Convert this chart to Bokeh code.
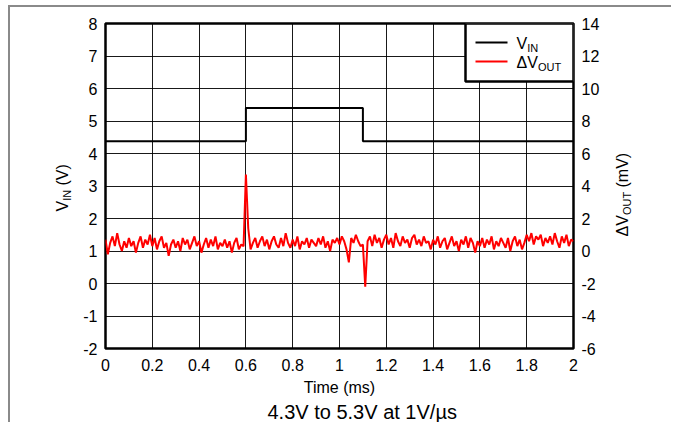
import numpy as np
from bokeh.plotting import figure
from bokeh.models import (Range1d, LinearAxis, FixedTicker, Label, BoxAnnotation, Title)
from bokeh.embed import file_html
from bokeh.resources import INLINE

# ---------------- data ----------------
x_ticks = [0, 0.2, 0.4, 0.6, 0.8, 1.0, 1.2, 1.4, 1.6, 1.8, 2.0]
x_tick_labels = ["0", "0.2", "0.4", "0.6", "0.8", "1", "1.2", "1.4", "1.6", "1.8", "2"]
vin_ticks = [-2, -1, 0, 1, 2, 3, 4, 5, 6, 7, 8]
vin_tick_labels = ["-2", "-1", "0", "1", "2", "3", "4", "5", "6", "7", "8"]
dv_ticks = [-6, -4, -2, 0, 2, 4, 6, 8, 10, 12, 14]
dv_tick_labels = ["-6", "-4", "-2", "0", "2", "4", "6", "8", "10", "12", "14"]

# V_IN step (time in ms, volts)
vin_t = [0.0, 0.6, 0.6, 1.1, 1.1, 2.0]
vin_v = [4.38, 4.38, 5.40, 5.40, 4.38, 4.38]

# Delta V_OUT (mV), sampled every 0.01 ms from 0 to 2 ms
dvout_mv = [
    0.7, -0.2, 0.5, 0.9, 0.3, 1.1, 0.4, 0.0, 0.6, 0.2,
    0.8, 0.3, 0.6, -0.1, 0.5, 0.9, 0.2, 0.7, 0.4, 1.0,
    0.3, 0.8, 0.1, 0.6, 0.9, 0.2, 0.5, -0.3, 0.4, 0.7,
    0.2, 0.6, 0.0, 0.8, 0.4, 0.7, 0.1, 0.5, 0.9, 0.3,
    0.6, -0.1, 0.4, 0.8, 0.2, 0.7, 0.3, 0.9, 0.1, 0.5,
    0.3, 0.7, 0.2, 0.6, -0.1, 0.5, 0.8, 0.1, 0.4, 0.3,
    4.7, 1.4, 0.1, 0.5, 0.8, 0.2, 0.6, 0.9, 0.3, 0.7,
    0.1, 0.6, 0.9, 0.4, 0.2, 0.8, 0.3, 1.1, 0.5, 0.2,
    0.7, 0.3, 0.9, 0.1, 0.6, 0.4, 0.8, 0.2, 0.7, 0.5,
    0.3, 0.8, 0.4, 0.9, 0.2, 0.6, 0.0, 0.7, 0.5, 0.8,
    0.4, 0.9, 0.6, 0.1, -0.7, 0.8, 0.5, 1.0, 0.6, 0.3,
    0.4, -2.2, 0.6, 0.9, 0.3, 1.0, 0.5, 0.8, 0.2, 0.7,
    1.0, 0.4, 0.8, 0.2, 1.1, 0.6, 0.3, 0.9, 0.5, 0.7,
    0.2, 0.8, 1.0, 0.4, 0.7, 0.3, 0.9, 0.5, 0.6, 0.1,
    0.7, 0.4, 0.9, 0.2, 0.6, 0.8, 0.1, 0.5, 0.9, 0.3,
    0.6, 0.0, 0.7, 0.4, 0.9, 0.2, 0.8, 0.5, -0.1, 0.6,
    0.3, 0.8, 0.2, 0.7, 0.4, 0.9, 0.1, 0.6, 0.3, 0.8,
    0.5, 0.2, 0.8, 0.0, 0.6, 0.9, 0.3, 0.7, 0.1, 0.5,
    1.0, 0.6, 1.1, 0.4, 0.9, 0.7, 1.0, 0.3, 0.8, 0.5,
    0.9, 0.4, 1.1, 0.6, 0.2, 0.9, 0.5, 1.0, 0.3, 0.7,
    0.6,
]
dvout_t = list(np.round(np.linspace(0.0, 2.0, len(dvout_mv)), 4))

caption = "4.3V to 5.3V at 1V/µs"

# ---------------- layout ----------------
FONT = "Liberation Sans"
F_LEFT, F_TOP, F_W, F_H = 105, 23, 468, 325   # frame position on the page (px)


def dx(px):
    return (px - F_LEFT) / F_W * 2.0


def dy(py):
    return 8.0 - (py - F_TOP) / F_H * 10.0


p = figure(frame_width=F_W, frame_height=F_H,
           min_border_left=95, min_border_right=98,
           min_border_top=16, min_border_bottom=73,
           x_range=Range1d(0, 2), y_range=Range1d(-2, 8),
           output_backend="svg", toolbar_location=None,
           background_fill_color="white", border_fill_color="white",
           styles={"margin-left": "8px", "margin-top": "5px",
                   "border-left": "2px solid #8a8a8a",
                   "border-top": "2px solid #8a8a8a"})
p.extra_y_ranges = {"r": Range1d(-6, 14)}
raxis = LinearAxis(y_range_name="r")
p.add_layout(raxis, "right")

p.outline_line_color = "black"
p.outline_line_width = 2.5

p.xaxis.ticker = FixedTicker(ticks=x_ticks)
p.xaxis.major_label_overrides = {t: l for t, l in zip(x_ticks, x_tick_labels)}
p.yaxis[0].ticker = FixedTicker(ticks=vin_ticks)
p.yaxis[0].major_label_overrides = {t: l for t, l in zip(vin_ticks, vin_tick_labels)}
raxis.ticker = FixedTicker(ticks=dv_ticks)
raxis.major_label_overrides = {t: l for t, l in zip(dv_ticks, dv_tick_labels)}

for ax in p.axis:
    ax.axis_line_color = None
    ax.major_tick_line_color = None
    ax.minor_tick_line_color = None
    ax.major_tick_out = 0
    ax.major_tick_in = 0
    ax.major_label_text_font = FONT
    ax.major_label_text_font_size = "16px"
    ax.major_label_text_color = "black"
    ax.axis_label_text_font = FONT
    ax.axis_label_text_font_size = "16px"
    ax.axis_label_text_font_style = "normal"
    ax.axis_label_text_color = "black"
    ax.major_label_standoff = 8

p.xaxis.major_label_standoff = 10
p.xaxis.axis_label = "Time (ms)"
p.xaxis.axis_label_standoff = 5

p.xgrid.ticker = FixedTicker(ticks=x_ticks)
p.ygrid.ticker = FixedTicker(ticks=vin_ticks)
p.grid.grid_line_color = "black"
p.grid.grid_line_width = 1
p.grid.grid_line_alpha = 0.9

# caption below the x axis
p.add_layout(Title(text=caption, align="left", offset=162, standoff=0,
                   text_font=FONT, text_font_size="20px", text_font_style="normal",
                   text_color="black"), "below")

# data lines
p.line(vin_t, vin_v, line_color="black", line_width=2)
p.line(dvout_t, dvout_mv, line_color="red", line_width=2, y_range_name="r")

# legend (manual, for subscripts)
p.add_layout(BoxAnnotation(left=dx(465), right=dx(573), top=dy(23), bottom=dy(81),
                           fill_color="white", fill_alpha=1.0,
                           line_color="black", line_width=2.5, line_alpha=1.0))
p.line([dx(475), dx(507)], [dy(42), dy(42)], line_color="black", line_width=2, level="overlay")
p.line([dx(475), dx(507)], [dy(61), dy(61)], line_color="red", line_width=2, level="overlay")


def lab(text, px, py, size, angle=0.0, align="left", baseline="middle", side=None):
    label = Label(x=dx(px), y=dy(py), text=text, text_font=FONT,
                  text_font_size=f"{size}px", text_color="black",
                  text_align=align, text_baseline=baseline, angle=angle,
                  level="overlay")
    if side is None:
        p.add_layout(label)
    else:
        p.add_layout(label, side)


lab("V", 516, 43, 16)
lab("IN", 526.7, 47, 11)
lab("\u0394V", 516, 62, 16)
lab("OUT", 537.4, 66, 11)

A = np.pi / 2
# left axis label  V_IN (V)
lab("V", 62, 211, 16, angle=A, side="left")
lab("IN", 66, 200.3, 11, angle=A, side="left")
lab("(V)", 62, 185, 16, angle=A, side="left")

# right axis label  ΔV_OUT (mV)
lab("\u0394V", 622, 236, 16, angle=A, side="right")
lab("OUT", 626, 214.6, 11, angle=A, side="right")
lab("(mV)", 622, 187, 16, angle=A, side="right")

open("out.html", "w").write(file_html(p, INLINE))
